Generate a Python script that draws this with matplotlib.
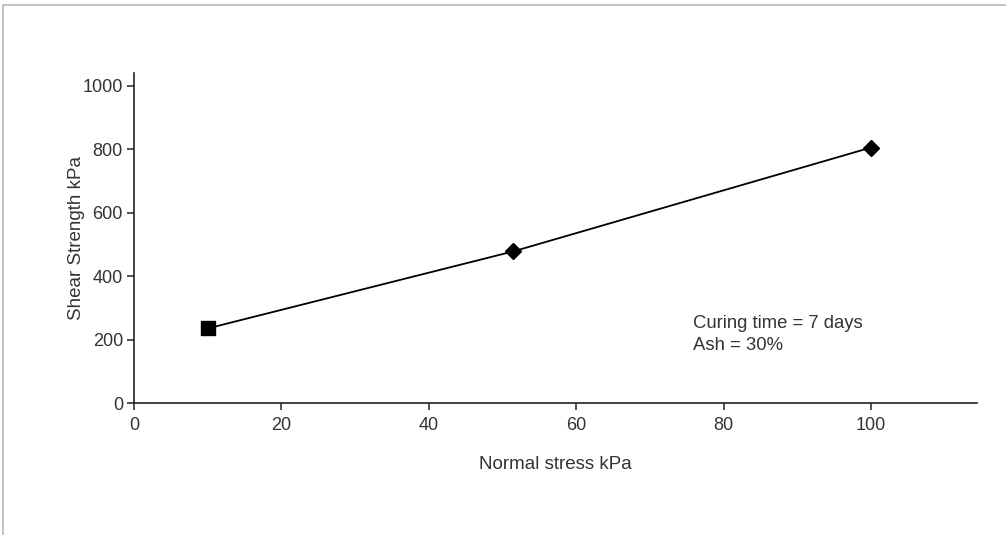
import matplotlib.pyplot as plt
from matplotlib.lines import Line2D

# shear box results, 7 day curing, 30% ash
normal_stress = [10, 51.5, 100]
shear_strength = [235, 478, 805]
markers = ["s", "D", "D"]

xticks = [0, 20, 40, 60, 80, 100]
yticks = [0, 200, 400, 600, 800, 1000]

plt.rcParams['font.family'] = ['Liberation Sans', 'DejaVu Sans']

W, H = 1006, 535
fig = plt.figure(figsize=(W / 100, H / 100), dpi=100)
# axes box in pixels: left, bottom, width, height
ax = fig.add_axes([134 / W, 132 / H, 843 / W, 330 / H])

ax.plot(normal_stress, shear_strength, '-', color="black", lw=1.3, zorder=2)
for x, y, m in zip(normal_stress, shear_strength, markers):
    ax.plot(x, y, marker=m, color="black", ms=10 if m == "s" else 8.5, zorder=3)

ax.set_xlim(0, 114.4)
ax.set_ylim(0, 1040)
ax.set_xticks(xticks)
ax.set_yticks(yticks)

for side in ["top", "right"]:
    ax.spines[side].set_visible(False)
for side in ["left", "bottom"]:
    ax.spines[side].set_linewidth(1.2)
    ax.spines[side].set_color("#222222")

ax.tick_params(direction="out", length=5, width=1.1, color="#222222",
               labelsize=13, labelcolor="#333333", pad=5)
ax.tick_params(axis="y", pad=3)

ax.set_xlabel("Normal stress kPa", fontsize=13.5, color="#333333", labelpad=16)
ax.set_ylabel("Shear Strength kPa", fontsize=13.5, color="#333333", labelpad=-2)

ax.text(75.8, 215, "Curing time = 7 days\nAsh = 30%", fontsize=13.3,
        color="#333333", va="center", ha="left", linespacing=1.4)

# thin grey frame along the top and left edge
fig.add_artist(Line2D([3 / W, 1], [1 - 5 / H, 1 - 5 / H], color="#c4c4c4", lw=1.5))
fig.add_artist(Line2D([3 / W, 3 / W], [0, 1 - 5 / H], color="#c4c4c4", lw=1.5))

fig.savefig("out.png", dpi=100)
